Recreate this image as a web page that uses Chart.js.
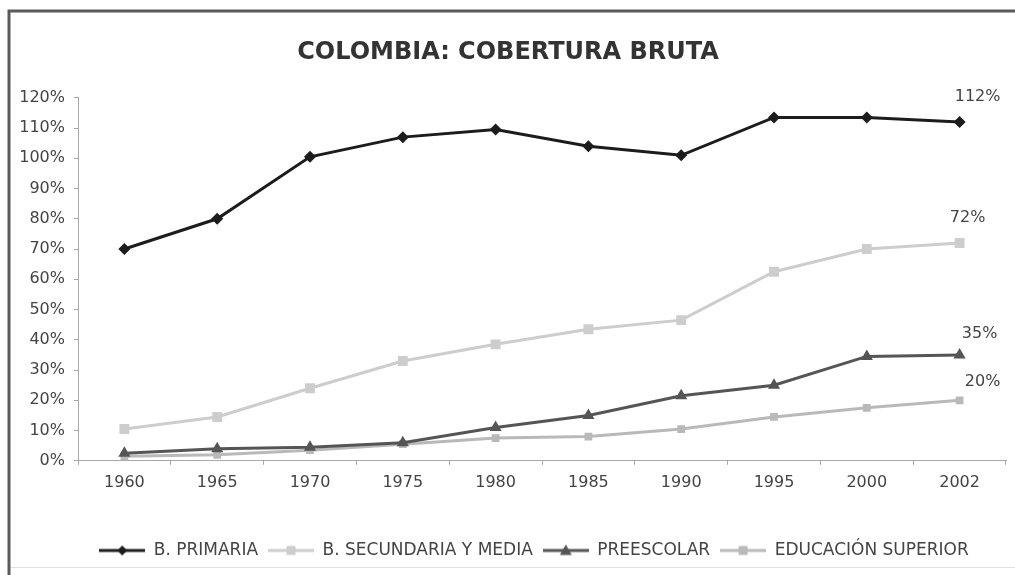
<!DOCTYPE html>
<html>
<head>
<meta charset="utf-8">
<script src="https://cdn.jsdelivr.net/npm/chart.js@4"></script>
<style>
html,body{margin:0;padding:0;background:#fff;}
#wrap{width:1015px;height:575px;position:relative;}
</style>
</head>
<body>
<div id="wrap"><canvas id="c" width="1015" height="575"></canvas></div>
<script>
const years = ['1960','1965','1970','1975','1980','1985','1990','1995','2000','2002'];
const primaria = [70, 80, 100.5, 107, 109.5, 104, 101, 113.5, 113.5, 112];
const secundaria = [10.5, 14.5, 24, 33, 38.5, 43.5, 46.5, 62.5, 70, 72];
const preescolar = [2.5, 4, 4.5, 6, 11, 15, 21.5, 25, 34.5, 35];
const superior = [1.5, 2, 3.5, 5.5, 7.5, 8, 10.5, 14.5, 17.5, 20];
const seriesNames = ['B. PRIMARIA','B. SECUNDARIA Y MEDIA','PREESCOLAR','EDUCACIÓN SUPERIOR'];
const yTicks = [0,10,20,30,40,50,60,70,80,90,100,110,120];

const FONT = 'DejaVu Sans';

function legendIcon(color, style, r) {
  const cv = document.createElement('canvas');
  cv.width = 46; cv.height = 14;
  const g = cv.getContext('2d');
  g.strokeStyle = color; g.lineWidth = 3;
  g.beginPath(); g.moveTo(0, 7); g.lineTo(46, 7); g.stroke();
  g.fillStyle = color;
  const x = 23, y = 7;
  g.beginPath();
  if (style === 'rectRot') { g.moveTo(x, y - r); g.lineTo(x + r, y); g.lineTo(x, y + r); g.lineTo(x - r, y); }
  else if (style === 'triangle') { g.moveTo(x, y - r); g.lineTo(x + r, y + r * 0.75); g.lineTo(x - r, y + r * 0.75); }
  else { g.rect(x - r * 0.75, y - r * 0.75, r * 1.5, r * 1.5); }
  g.closePath(); g.fill();
  return cv;
}

const styles = [
  {color:'#1c1c1c', point:'rectRot', radius:6, label:{dx:18, dy:-25}},
  {color:'#cdcdcd', point:'rect', radius:7, label:{dx:8, dy:-25}},
  {color:'#555555', point:'triangle', radius:7, label:{dx:20, dy:-21}},
  {color:'#b9b9b9', point:'rect', radius:5.5, label:{dx:23, dy:-18}}
];
const seriesData = [primaria, secundaria, preescolar, superior];

const datasets = seriesData.map((d, i) => ({
  label: seriesNames[i],
  data: d,
  borderColor: styles[i].color,
  backgroundColor: styles[i].color,
  borderWidth: 3,
  pointStyle: styles[i].point,
  pointRadius: styles[i].radius,
  pointBorderWidth: 0,
  pointBackgroundColor: styles[i].color,
  tension: 0,
  endLabel: styles[i].label
}));

const framePlugin = {
  id: 'frame',
  beforeDraw(chart) {
    const ctx = chart.ctx;
    ctx.save();
    ctx.fillStyle = '#ffffff';
    ctx.fillRect(0, 0, chart.width, chart.height);
    ctx.strokeStyle = '#e2e2e2'; ctx.lineWidth = 1;
    ctx.beginPath(); ctx.moveTo(9, 567.5); ctx.lineTo(1015, 567.5); ctx.stroke();
    ctx.strokeStyle = '#5a5a5a'; ctx.lineWidth = 3;
    ctx.beginPath(); ctx.moveTo(1015, 11); ctx.lineTo(9, 11); ctx.lineTo(9, 575); ctx.stroke();
    ctx.restore();
  },
  afterLayout(chart) {
    const lg = chart.legend;
    if (lg) { lg.left += 26; lg.right += 26; }
  },
  afterDatasetsDraw(chart) {
    const ctx = chart.ctx;
    ctx.save();
    ctx.font = '16px "' + FONT + '"';
    ctx.fillStyle = '#444444';
    ctx.textAlign = 'center';
    ctx.textBaseline = 'middle';
    chart.data.datasets.forEach((ds, i) => {
      const meta = chart.getDatasetMeta(i);
      const last = meta.data[meta.data.length - 1];
      const v = ds.data[ds.data.length - 1];
      ctx.fillText(Math.round(v) + '%', last.x + ds.endLabel.dx, last.y + ds.endLabel.dy);
    });
    ctx.restore();
  }
};

new Chart(document.getElementById('c'), {
  type: 'line',
  data: { labels: years, datasets: datasets },
  options: {
    responsive: false,
    animation: false,
    devicePixelRatio: 1,
    layout: { padding: { left: 10, right: 9, top: 12, bottom: 6 } },
    plugins: {
      title: {
        display: true,
        text: 'COLOMBIA: COBERTURA BRUTA',
        color: '#333333',
        font: { family: FONT, size: 24, weight: 'bold', lineHeight: 1.2 },
        padding: { top: 26, bottom: 31 }
      },
      legend: {
        display: true,
        position: 'bottom',
        labels: {
          usePointStyle: true,
          pointStyleWidth: 46,
          color: '#444444',
          font: { family: FONT, size: 17 },
          padding: 10,
          generateLabels(chart) {
            return chart.data.datasets.map((ds, i) => ({
              text: ds.label,
              pointStyle: legendIcon(styles[i].color, styles[i].point, i === 0 ? 5 : 6),
              fillStyle: styles[i].color,
              strokeStyle: styles[i].color,
              lineWidth: 0,
              hidden: false,
              datasetIndex: i,
              fontColor: '#444444'
            }));
          }
        }
      },
      tooltip: { enabled: false }
    },
    scales: {
      x: {
        offset: true,
        afterFit(scale) { scale.height += 32; },
        grid: { display: true, drawOnChartArea: false, drawTicks: true, tickLength: 4, offset: true, color: '#a8a8a8' },
        border: { display: true, color: '#a8a8a8', width: 1 },
        ticks: { color: '#444444', font: { family: FONT, size: 16 }, padding: 8, maxRotation: 0, autoSkip: false }
      },
      y: {
        min: 0,
        max: 120,
        afterBuildTicks(scale) { scale.ticks = yTicks.map(v => ({ value: v })); },
        afterFit(scale) { scale.width = 68; },
        grid: { display: true, drawOnChartArea: false, drawTicks: true, tickLength: 4, color: '#a8a8a8' },
        border: { display: true, color: '#a8a8a8', width: 1 },
        ticks: { color: '#444444', font: { family: FONT, size: 16 }, padding: 9, callback: v => v + '%' }
      }
    }
  },
  plugins: [framePlugin]
});
</script>
</body>
</html>
